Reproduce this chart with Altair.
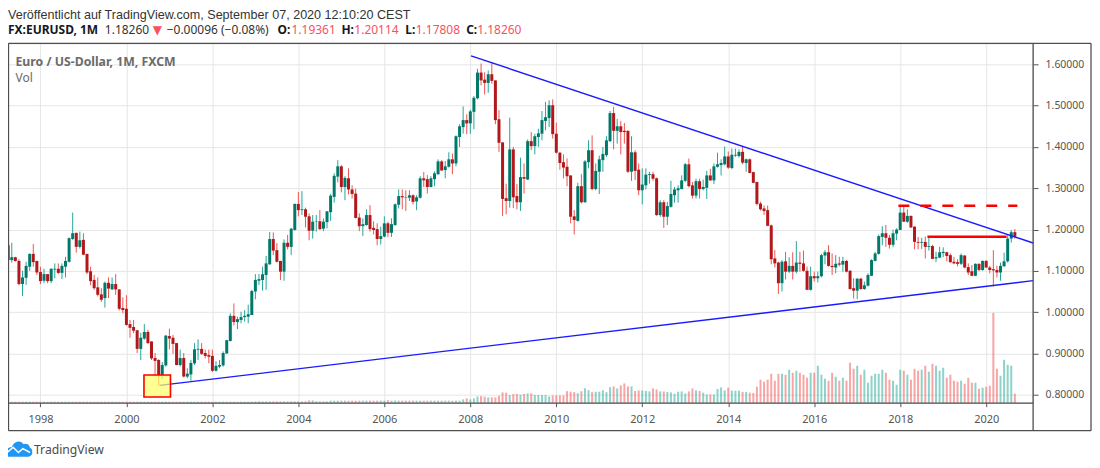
import altair as alt
import pandas as pd

opens = sum([
 [1.162,1.126,1.133,1.124,1.068,1.083,1.110,1.141,1.124],
 [1.097,1.076,1.092,1.075,1.103,1.105,1.095,1.110,1.122,1.177,1.192,1.158],
 [1.175,1.141,1.099,1.078,1.060,1.043,1.034,1.071,1.055,1.068,1.055,1.010],
 [1.008,0.971,0.964,0.956,0.911,0.936,0.952,0.929,0.889,0.884,0.847,0.871],
 [0.942,0.938,0.925,0.872,0.889,0.844,0.849,0.876,0.909,0.911,0.901,0.896],
 [0.894,0.858,0.868,0.871,0.900,0.930,0.991,0.976,0.981,0.988,0.989,0.993],
 [1.050,1.076,1.078,1.090,1.116,1.177,1.150,1.124,1.098,1.168,1.158,1.199],
 [1.262,1.247,1.249,1.232,1.197,1.219,1.220,1.202,1.218,1.242,1.279,1.328],
 [1.353,1.303,1.324,1.297,1.287,1.229,1.208,1.211,1.235,1.204,1.201,1.177],
 [1.183,1.215,1.192,1.211,1.260,1.281,1.278,1.277,1.283,1.268,1.277,1.324],
 [1.322,1.303,1.322,1.334,1.365,1.344,1.352,1.370,1.360,1.424,1.448,1.465],
 [1.457,1.485,1.518,1.580,1.563,1.555,1.576,1.561,1.467,1.411,1.276,1.269],
 [1.394,1.281,1.266,1.327,1.321,1.414,1.402,1.424,1.432,1.463,1.470,1.501],
 [1.432,1.386,1.363,1.352,1.331,1.232,1.221,1.305,1.266,1.363,1.392,1.298],
 [1.340,1.368,1.380,1.414,1.482,1.439,1.450,1.439,1.439,1.340,1.387,1.345],
 [1.295,1.307,1.332,1.334,1.324,1.235,1.266,1.231,1.255,1.283,1.295,1.298],
 [1.318,1.358,1.307,1.282,1.317,1.298,1.301,1.331,1.319,1.352,1.356,1.358],
 [1.377,1.349,1.379,1.378,1.388,1.361,1.370,1.339,1.315,1.263,1.251,1.247],
 [1.210,1.130,1.120,1.070,1.123,1.098,1.112,1.098,1.120,1.118,1.100,1.054],
 [1.087,1.082,1.087,1.137,1.145,1.112,1.108,1.118,1.115,1.124,1.100,1.058],
 [1.052,1.081,1.056,1.064,1.088,1.124,1.141,1.182,1.191,1.180,1.163,1.190],
 [1.199,1.241,1.219,1.233,1.207,1.170,1.168,1.170,1.158,1.160,1.130,1.132],
 [1.143,1.145,1.138,1.122,1.121,1.117,1.137,1.109,1.099,1.088,1.117,1.102],
 [1.124,1.108,1.104,1.102,1.096,1.111,1.123,1.178,1.19361],
], [])

highs = sum([
 [1.171,1.168,1.134,1.128,1.100,1.122,1.142,1.165,1.124],
 [1.110,1.105,1.092,1.106,1.118,1.118,1.118,1.134,1.181,1.241,1.192,1.195],
 [1.191,1.141,1.110,1.090,1.084,1.058,1.074,1.084,1.084,1.092,1.055,1.036],
 [1.041,0.981,0.981,0.957,0.950,0.971,0.957,0.929,0.901,0.886,0.879,0.945],
 [0.960,0.945,0.925,0.909,0.901,0.864,0.884,0.925,0.934,0.925,0.909,0.909],
 [0.909,0.881,0.884,0.905,0.933,0.997,1.021,0.989,1.001,1.005,1.018,1.054],
 [1.092,1.092,1.110,1.136,1.194,1.193,1.167,1.124,1.176,1.187,1.204,1.263],
 [1.291,1.293,1.253,1.239,1.235,1.235,1.247,1.227,1.245,1.286,1.336,1.368],
 [1.356,1.329,1.348,1.307,1.299,1.239,1.227,1.249,1.259,1.220,1.215,1.207],
 [1.232,1.219,1.227,1.263,1.297,1.297,1.295,1.295,1.285,1.283,1.329,1.339],
 [1.332,1.329,1.341,1.370,1.368,1.366,1.387,1.384,1.428,1.455,1.498,1.479],
 [1.490,1.523,1.589,1.602,1.581,1.585,1.606,1.561,1.489,1.411,1.311,1.471],
 [1.400,1.310,1.374,1.360,1.418,1.436,1.432,1.444,1.487,1.509,1.513,1.515],
 [1.459,1.388,1.382,1.372,1.331,1.247,1.313,1.334,1.368,1.416,1.428,1.360],
 [1.379,1.400,1.426,1.487,1.497,1.468,1.463,1.458,1.440,1.426,1.392,1.360],
 [1.348,1.348,1.340,1.340,1.326,1.271,1.271,1.267,1.318,1.303,1.307,1.331],
 [1.361,1.372,1.315,1.323,1.323,1.321,1.342,1.347,1.360,1.386,1.370,1.401],
 [1.389,1.396,1.396,1.394,1.400,1.372,1.372,1.340,1.316,1.267,1.258,1.258],
 [1.212,1.150,1.122,1.126,1.146,1.133,1.145,1.172,1.146,1.149,1.110,1.110],
 [1.098,1.098,1.141,1.150,1.162,1.142,1.138,1.134,1.134,1.126,1.102,1.082],
 [1.082,1.083,1.074,1.094,1.128,1.146,1.188,1.208,1.211,1.187,1.200,1.203],
 [1.255,1.257,1.249,1.234,1.208,1.182,1.180,1.183,1.183,1.163,1.146,1.158],
 [1.157,1.146,1.142,1.134,1.128,1.142,1.138,1.118,1.114,1.118,1.118,1.125],
 [1.126,1.112,1.150,1.112,1.120,1.144,1.188,1.199,1.20114],
], [])

lows = sum([
 [1.122,1.120,1.122,1.065,1.039,1.066,1.100,1.110,1.090],
 [1.068,1.070,1.070,1.070,1.082,1.092,1.080,1.084,1.120,1.175,1.144,1.154],
 [1.138,1.092,1.065,1.054,1.038,1.025,1.011,1.034,1.054,1.042,1.004,0.997],
 [0.967,0.938,0.949,0.901,0.884,0.933,0.923,0.884,0.844,0.822,0.838,0.868],
 [0.910,0.899,0.871,0.868,0.842,0.840,0.834,0.872,0.884,0.896,0.888,0.876],
 [0.855,0.856,0.864,0.868,0.899,0.929,0.968,0.959,0.973,0.977,0.973,0.993],
 [1.031,1.066,1.052,1.054,1.114,1.138,1.120,1.078,1.076,1.152,1.138,1.197],
 [1.232,1.235,1.205,1.174,1.178,1.195,1.199,1.196,1.203,1.221,1.265,1.314],
 [1.290,1.271,1.285,1.275,1.227,1.196,1.184,1.209,1.195,1.188,1.162,1.164],
 [1.181,1.182,1.182,1.209,1.251,1.249,1.245,1.269,1.261,1.247,1.275,1.303],
 [1.287,1.302,1.305,1.332,1.342,1.324,1.350,1.334,1.353,1.400,1.432,1.431],
 [1.432,1.443,1.515,1.549,1.527,1.531,1.553,1.455,1.388,1.233,1.237,1.253],
 [1.252,1.249,1.245,1.287,1.320,1.392,1.382,1.400,1.416,1.440,1.448,1.420],
 [1.384,1.345,1.324,1.305,1.215,1.188,1.219,1.263,1.265,1.348,1.295,1.295],
 [1.286,1.340,1.376,1.412,1.394,1.408,1.382,1.408,1.337,1.318,1.320,1.283],
 [1.261,1.297,1.311,1.318,1.233,1.231,1.204,1.211,1.253,1.265,1.265,1.297],
 [1.315,1.302,1.275,1.275,1.275,1.295,1.274,1.318,1.310,1.350,1.331,1.355],
 [1.347,1.346,1.376,1.374,1.358,1.340,1.336,1.312,1.258,1.246,1.235,1.208],
 [1.116,1.108,1.044,1.050,1.079,1.095,1.079,1.094,1.098,1.098,1.054,1.052],
 [1.074,1.072,1.084,1.116,1.110,1.090,1.094,1.111,1.098,1.096,1.054,1.033],
 [1.031,1.054,1.054,1.062,1.087,1.123,1.139,1.162,1.158,1.154,1.157,1.174],
 [1.199,1.218,1.216,1.204,1.152,1.152,1.153,1.130,1.149,1.128,1.121,1.131],
 [1.133,1.123,1.119,1.116,1.111,1.114,1.106,1.090,1.087,1.087,1.099,1.100],
 [1.107,1.094,1.062,1.084,1.076,1.110,1.120,1.168,1.17808],
], [])

closes = sum([
 [1.126,1.133,1.124,1.068,1.084,1.112,1.141,1.121,1.096],
 [1.075,1.092,1.075,1.105,1.105,1.095,1.112,1.124,1.179,1.191,1.158,1.174],
 [1.139,1.096,1.075,1.058,1.042,1.030,1.071,1.057,1.068,1.055,1.008,1.005],
 [0.969,0.962,0.955,0.911,0.938,0.952,0.925,0.888,0.882,0.847,0.872,0.943],
 [0.936,0.923,0.872,0.889,0.844,0.851,0.877,0.910,0.911,0.899,0.894,0.892],
 [0.858,0.870,0.872,0.901,0.932,0.991,0.976,0.983,0.988,0.991,0.995,1.051],
 [1.078,1.080,1.092,1.118,1.177,1.149,1.122,1.098,1.168,1.158,1.202,1.262],
 [1.247,1.249,1.231,1.197,1.219,1.220,1.201,1.219,1.244,1.282,1.330,1.353],
 [1.303,1.325,1.297,1.286,1.228,1.208,1.213,1.235,1.201,1.199,1.177,1.184],
 [1.215,1.192,1.213,1.261,1.281,1.278,1.277,1.283,1.267,1.278,1.324,1.319],
 [1.303,1.324,1.336,1.365,1.343,1.353,1.370,1.360,1.426,1.450,1.465,1.457],
 [1.486,1.519,1.580,1.561,1.555,1.576,1.560,1.465,1.410,1.274,1.269,1.394],
 [1.278,1.266,1.327,1.323,1.414,1.402,1.426,1.433,1.465,1.472,1.501,1.431],
 [1.386,1.361,1.350,1.329,1.231,1.223,1.305,1.266,1.365,1.392,1.298,1.342],
 [1.370,1.383,1.416,1.482,1.439,1.450,1.436,1.436,1.340,1.387,1.342,1.295],
 [1.309,1.333,1.334,1.323,1.235,1.266,1.231,1.257,1.286,1.297,1.300,1.319],
 [1.358,1.305,1.282,1.317,1.298,1.303,1.331,1.319,1.353,1.358,1.361,1.377],
 [1.350,1.381,1.381,1.388,1.362,1.370,1.337,1.313,1.262,1.249,1.245,1.209],
 [1.128,1.118,1.070,1.122,1.098,1.112,1.098,1.120,1.117,1.100,1.054,1.087],
 [1.082,1.087,1.138,1.145,1.112,1.109,1.117,1.115,1.124,1.098,1.056,1.052],
 [1.081,1.056,1.065,1.090,1.126,1.142,1.184,1.191,1.180,1.163,1.191,1.200],
 [1.241,1.219,1.233,1.205,1.170,1.168,1.170,1.158,1.160,1.129,1.133,1.145],
 [1.146,1.136,1.121,1.118,1.117,1.138,1.108,1.096,1.088,1.117,1.102,1.124],
 [1.108,1.102,1.101,1.096,1.112,1.123,1.178,1.1935,1.18260],
], [])

volumes = sum([
 [1,1,1,1,1,1,1,1,1],
 [1,1,1,1,1,1,1,1,1,1,1,1],
 [1,1,1,1,1,1,1,1,1,1,1,1],
 [1,1,1,1,1,1,1,1,1,1,1,1],
 [1,1,1,1,1,1,1,1,1,1,1,1],
 [1,1,1,1,1,1,1,1,1,1,1,1],
 [1.3,1.3,1.3,1.3,1.3,1.3,1.3,1.3,1.3,1.3,1.3,1.3],
 [1.3,1.3,1.3,2.3,2.3,1.3,1.3,1.3,1.3,2,2,2],
 [2,2,2,2,2,2,2,2,2,2,2,2],
 [2,2.5,2,2,2,2,2,2,2,2,2,2],
 [2,2,2,2,2,2,2,2,2,2,3.3,4.3],
 [3.3,4.3,6.3,6.7,6,5.3,5.3,5.3,7,10.3,10,7.7],
 [8.7,8.7,8,8.7,9.3,9.3,7.7,7.7,7.7,7.7,6.3,7.3],
 [7.3,7.3,7.3,11.5,11,10.5,9.5,11.5,14.5,12.5,10.5,11],
 [11,12.5,10.5,15.5,16.3,14.3,17.3,19.3,16.3,16.3,11.7,12.3],
 [12.3,11.7,11.3,14.3,13.3,11.3,11.3,10.7,10.3,9,11,11.3],
 [9.3,11.3,14.3,12.3,11.7,10,8.3,8.3,8.3,13.7,15.3,12.3],
 [15,12,12,12,10.7,10.7,10,9.7,16,23,21,23],
 [29,22,29,29,28,33,30,32,30,28,25,30],
 [30,37,28,24,22,30,26,22,25,22,40,34],
 [37,28,33,20,27,29,29,33,30,23,22,18],
 [33,32,28,23,34,32,33,37,31,39,37,32],
 [35,25,28,22,21,22,19,25,20,20,14,15],
 [16,17,90,34,27,43,38,37,9],
], [])

upper_trend_idx = [120.2, 277.1]
upper_trend_val = [1.6205, 1.1674]
lower_trend_idx = [33.3, 277.1]
lower_trend_val = [0.8225, 1.0762]
resistance_idx = [247.6, 269.7]
resistance_val = [1.1826, 1.1826]
old_high_idx = [239.5, 272.7]
old_high_val = [1.2575, 1.2575]
box_idx = [28.9, 36.3]
box_val = [0.7945, 0.8476]

price_ticks = [0.8, 0.9, 1.0, 1.1, 1.2, 1.3, 1.4, 1.5, 1.6]
year_ticks = [0, 24, 48, 72, 96, 120, 144, 168, 192, 216, 240, 264]

df = pd.DataFrame({"open": opens, "high": highs, "low": lows, "close": closes, "vol": volumes})
df["idx"] = range(-9, len(df) - 9)
up = df["close"] >= df["open"]
df["wick"] = up.map({True: "#26a69a", False: "#ef5350"})
df["body"] = up.map({True: "#00796b", False: "#b2181b"})
df["volc"] = up.map({True: "#1ca896", False: "#f34c4c"})

FONT = "Noto Sans"
GREY = "#555555"
xscale = alt.Scale(domain=[-9.055, 277.1], nice=False, zero=False, padding=0)
yscale = alt.Scale(domain=[0.7807, 1.6508], nice=False, zero=False)
X = alt.X("idx:Q", scale=xscale, axis=None)
Y_base = dict(scale=yscale, axis=None)

grid = alt.Chart(df.head(1)).mark_point(opacity=0).encode(
    x=alt.X("idx:Q", scale=xscale, axis=alt.Axis(
        values=year_ticks, labelExpr="format(1998 + datum.value / 12, 'd')", title=None,
        grid=True, gridColor="#e6e6e6", gridWidth=1, domain=False, tickColor=GREY,
        tickSize=4, labelColor=GREY, labelFont=FONT, labelFontSize=11, labelPadding=7,
        labelFlush=False, labelOverlap=False)),
    y=alt.Y("close:Q", scale=yscale, axis=alt.Axis(
        orient="right", values=price_ticks, format=".5f", title=None, grid=True,
        gridColor="#e6e6e6", gridWidth=1, domain=False, tickColor=GREY, tickSize=5,
        labelColor=GREY, labelFont=FONT, labelFontSize=10.5, labelPadding=7, labelOverlap=False)),
)

vol = alt.Chart(df).mark_bar(width=2, opacity=0.5, orient="vertical").encode(
    x=X,
    y=alt.Y("vol:Q", scale=alt.Scale(domain=[0, 360], nice=False), axis=None),
    color=alt.Color("volc:N", scale=None),
)
wicks = alt.Chart(df).mark_rule(strokeWidth=1).encode(
    x=X, y=alt.Y("low:Q", **Y_base), y2="high:Q", color=alt.Color("wick:N", scale=None))
bodies = alt.Chart(df).mark_bar(width=3, orient="vertical").encode(
    x=X, y=alt.Y("open:Q", **Y_base), y2="close:Q", color=alt.Color("body:N", scale=None))


def segment(idx, val, color, width, **kw):
    d = pd.DataFrame({"idx": idx, "v": val})
    return alt.Chart(d).mark_line(color=color, strokeWidth=width, **kw).encode(
        x=X, y=alt.Y("v:Q", **Y_base))


upper = segment(upper_trend_idx, upper_trend_val, "#1a1aff", 1.4)
lower = segment(lower_trend_idx, lower_trend_val, "#1a1aff", 1.4)
resist = segment(resistance_idx, resistance_val, "#ff0000", 2.6)
high_line = segment(old_high_idx, old_high_val, "#ff0000", 2.6, strokeDash=[11, 11])

box = alt.Chart(pd.DataFrame({"x1": [box_idx[0]], "x2": [box_idx[1]], "y1": [box_val[0]], "y2": [box_val[1]]})).mark_rect(
    fill="#ffff66", fillOpacity=0.7, stroke="#ff0000", strokeWidth=1.6).encode(
    x=alt.X("x1:Q", scale=xscale, axis=None), x2="x2:Q",
    y=alt.Y("y1:Q", **Y_base), y2="y2:Q")


def rule(x1, y1, x2, y2, color="#4f4f4f", width=1.3):
    return alt.Chart(pd.DataFrame({"a": [0]})).mark_rule(color=color, strokeWidth=width).encode(
        x=alt.value(x1 - 8), x2=alt.value(x2 - 8), y=alt.value(y1 - 43), y2=alt.value(y2 - 43))


frame = [
    rule(8.5, 43, 1093, 43),
    rule(8.5, 431, 1093, 431),
    rule(8.5, 43, 8.5, 431),
    rule(1093, 43, 1093, 431),
    rule(1035, 43, 1035, 431),
    rule(8.5, 403.5, 1035, 403.5),
]


def label(text, x, y, size=12, color="#131722", bold=False, font=FONT):
    return alt.Chart(pd.DataFrame({"t": [text]})).mark_text(
        align="left", baseline="alphabetic", font=font, fontSize=size, color=color,
        fontWeight="bold" if bold else "normal").encode(
        x=alt.value(x - 8), y=alt.value(y - 43), text="t:N")


RED = "#f7525f"
labels = [
    label("Veröffentlicht auf TradingView.com, September 07, 2020 12:10:20 CEST", 8, 19, size=12.6, color="#333333", font="Liberation Sans"),
    label("FX:EURUSD, 1M", 8, 33.5, bold=True),
    label("1.18260", 105, 33.5, color="#333333"),
    label("▼", 153, 33.5, size=12, color=RED, font="DejaVu Sans"),
    label("−0.00096 (−0.08%)", 167, 33.5, color="#333333"),
    label("O:", 278, 33.5, bold=True),
    label("1.19361", 292, 33.5, color=RED),
    label("H:", 342, 33.5, bold=True),
    label("1.20114", 355, 33.5, color=RED),
    label("L:", 406, 33.5, bold=True),
    label("1.17808", 416.5, 33.5, color=RED),
    label("C:", 467, 33.5, bold=True),
    label("1.18260", 478, 33.5, color=RED),
    label("Euro / US-Dollar, 1M, FXCM", 15.5, 65.5, size=12.3, color="#6b6b6b", bold=True),
    label("Vol", 15.5, 81.5, color="#6b6b6b"),
    label("TradingView", 34, 454.5, size=12.2, color="#4a4a4a"),
]

logo = alt.Chart(pd.DataFrame({"a": [0]})).mark_point(
    shape="M-1,0.55 C-1,0.1 -0.75,-0.05 -0.5,-0.05 C-0.35,-0.5 0.1,-0.6 0.3,-0.25 C0.6,-0.4 0.8,-0.2 0.75,0 C1,0 1.05,0.55 0.7,0.55 Z",
    filled=True, fill="#2196f3", stroke="#2196f3", size=676, opacity=1).encode(
    x=alt.value(19 - 8), y=alt.value(449 - 43))
logo_wave = alt.Chart(pd.DataFrame({"a": [0]})).mark_point(
    shape="M-0.85,0.25 L-0.45,-0.1 L-0.05,0.3 L0.3,0 L0.85,0.3",
    filled=False, stroke="#ffffff", strokeWidth=1.5, size=676, opacity=1).encode(
    x=alt.value(19 - 8), y=alt.value(449 - 43))

chart = alt.layer(
    grid, vol, wicks, bodies, upper, lower, box, resist, high_line,
    *frame, *labels, logo, logo_wave,
).resolve_scale(y="independent", color="independent").resolve_axis(x="independent").properties(
    width=1027, height=360,
    autosize=alt.AutoSizeParams(type="none"),
    padding={"left": 0, "top": 35, "right": 59, "bottom": 57},
).configure_view(stroke=None).configure(background="white")

chart.save("out.html", embed_options={"renderer": "svg", "actions": False})
